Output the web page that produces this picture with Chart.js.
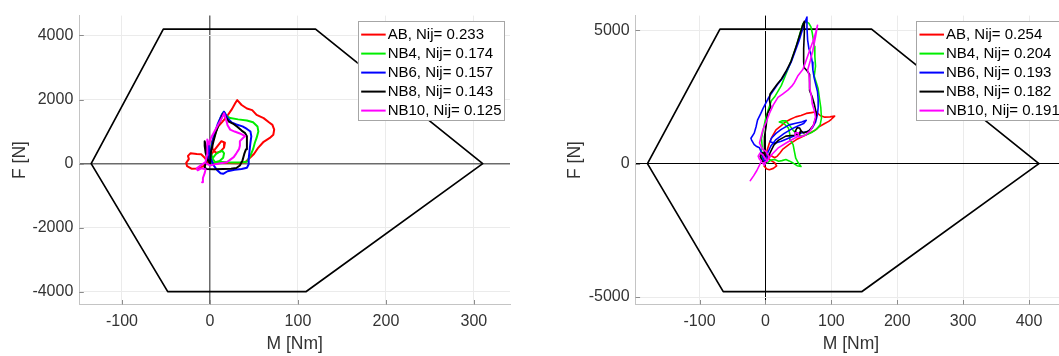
<!DOCTYPE html>
<html>
<head>
<meta charset="utf-8">
<script src="https://cdn.jsdelivr.net/npm/chart.js@4.4.1/dist/chart.umd.min.js"></script>
<style>
  html, body { margin: 0; padding: 0; background: #fff; overflow: hidden; width: 1059px; height: 356px; }
  .panel { position: absolute; top: 0; height: 356px; }
  #left { left: 0; width: 530px; }
  #right { left: 530px; width: 540px; }
</style>
</head>
<body>
<div class="panel" id="left"><canvas id="chartLeft" width="530" height="356"></canvas></div>
<div class="panel" id="right"><canvas id="chartRight" width="540" height="356"></canvas></div>
<script>
// ---- data: M [Nm] vs F [N] ----
const seriesNames = ["AB", "NB4", "NB6", "NB8", "NB10"];
const seriesColors = ["#ff0000", "#00ee00", "#0000ff", "#000000", "#ff00ff"];

const nijLeft = ["0.233", "0.174", "0.157", "0.143", "0.125"];
const nijRight = ["0.254", "0.204", "0.193", "0.182", "0.191"];

// critical envelopes
const hexLeft = [[-135, 0], [-53, 4200], [120, 4200], [310, 0], [109, -4000], [-48, -4000], [-135, 0]];
const hexRight = [[-179, 0], [-69, 5040], [161, 5040], [415, 0], [146, -4800], [-64, -4800], [-179, 0]];

// ticks
const xTicksLeft = [-100, 0, 100, 200, 300];
const yTicksLeft = [-4000, -2000, 0, 2000, 4000];
const xTicksRight = [-100, 0, 100, 200, 300, 400];
const yTicksRight = [-5000, 0, 5000];

// left panel traces
const abLeft = [[0,0],[-3,60],[-6,180],[-10,290],[-15,300],[-22,320],[-25,240],[-24,140],[-27,20],[-26,-80],[-21,-160],[-13,-150],[-8,-90],[-5,0],[-2,150],[2,300],[5,420],[9,560],[13,700],[17,650],[16,500],[12,380],[7,330],[3,450],[2,650],[5,900],[9,1150],[14,1300],[20,1500],[25,1700],[29,1900],[31,1980],[36,1830],[42,1720],[48,1670],[53,1520],[61,1420],[67,1290],[71,1210],[73,1060],[72,900],[68,800],[61,680],[55,500],[50,300],[44,140],[40,40],[32,10],[22,15],[12,25],[5,10],[0,0]];
const nb4Left = [[0,0],[2,80],[4,200],[7,300],[11,370],[14,400],[16,320],[15,180],[11,80],[6,40],[3,150],[1,350],[2,600],[5,850],[8,1100],[11,1350],[14,1550],[16,1620],[19,1480],[23,1420],[32,1380],[42,1345],[49,1290],[54,1160],[55,1000],[53,800],[51,650],[49,450],[46,250],[42,60],[35,30],[26,30],[19,40],[10,60],[4,30],[0,0]];
const nb6Left = [[0,0],[-2,150],[-3,400],[-2,650],[-1,400],[1,150],[4,-50],[8,-200],[12,-300],[15,-320],[20,-240],[28,-190],[36,-170],[42,-130],[44,-20],[44,150],[45,400],[46,650],[47,850],[46,1000],[42,1080],[37,1160],[30,1220],[25,1280],[20,1420],[16,1620],[13,1500],[9,1250],[6,1000],[3,700],[1,400],[0,0]];
const nb8Left = [[0,0],[-3,150],[-5,350],[-6,550],[-6,700],[-4,450],[-3,200],[-5,0],[-6,-120],[-4,-170],[5,-175],[15,-170],[24,-165],[30,-140],[34,-60],[37,100],[39,300],[41,450],[42,650],[42,850],[40,950],[36,1030],[31,1150],[26,1250],[21,1320],[17,1480],[15,1550],[11,1300],[7,1000],[4,700],[1,350],[0,0]];
const nb10Left = [[-9,-580],[-8,-450],[-6,-300],[-5,-180],[-10,-150],[-14,-210],[-15,-150],[-10,-50],[-5,50],[-3,300],[-3,750],[-1,600],[1,800],[4,950],[8,1150],[11,1300],[14,1450],[16,1570],[18,1400],[20,1200],[23,1060],[28,1000],[34,940],[40,860],[37,780],[34,700],[34,560],[33,450],[30,320],[27,200],[22,100],[19,40],[12,10],[8,-10],[3,-40],[0,-60],[-4,0]];

// right panel traces
const abRight = [[0,0],[-2,-100],[2,-200],[6,-230],[12,-180],[17,-90],[14,30],[8,120],[4,200],[3,350],[8,300],[14,220],[18,280],[22,400],[26,530],[36,720],[47,900],[58,1030],[67,1140],[76,1260],[82,1390],[90,1500],[96,1580],[100,1660],[105,1780],[98,1750],[90,1740],[83,1800],[77,1940],[70,1910],[62,1880],[54,1800],[46,1750],[38,1660],[31,1570],[24,1420],[16,1260],[10,1000],[6,770],[2,450],[-2,200],[-4,80],[0,0]];
const nb4Right = [[0,0],[-4,120],[-7,350],[-5,650],[-6,950],[-3,1300],[0,1650],[4,2000],[9,2350],[14,2500],[20,2750],[24,2920],[30,3280],[36,3650],[42,4050],[47,4400],[52,4850],[57,5250],[62,5320],[66,5250],[69,5120],[71,4900],[73,4600],[74,4390],[75,4000],[76,3650],[75,3450],[74,3280],[77,3050],[80,2800],[82,2430],[84,2100],[85,1700],[83,1450],[78,1300],[70,1160],[62,1080],[55,1030],[48,1080],[42,1250],[36,1450],[31,1600],[25,1600],[21,1560],[28,1500],[35,1330],[37,1100],[37,900],[42,710],[44,450],[46,200],[50,20],[54,-110],[48,-80],[42,20],[36,100],[31,150],[25,110],[20,90],[14,150],[8,130],[4,50],[0,0]];
const nb6Right = [[0,0],[-3,150],[-6,400],[-9,590],[-14,650],[-17,710],[-21,880],[-22,950],[-17,1140],[-14,1400],[-12,1630],[-7,1880],[-3,2100],[1,2280],[5,2480],[11,2700],[18,2950],[26,3200],[33,3500],[39,3800],[45,4200],[51,4600],[56,5000],[60,5300],[63,5490],[63,5100],[64,4630],[66,4300],[69,4100],[71,3800],[72,3500],[74,3200],[76,3000],[79,2700],[80,2400],[80,2100],[79,1850],[76,1550],[71,1330],[64,1200],[55,1150],[45,1050],[35,950],[24,840],[14,760],[7,820],[9,950],[16,1130],[24,1280],[36,1450],[46,1510],[55,1560],[62,1620],[58,1500],[50,1420],[40,1300],[28,1120],[16,900],[8,650],[3,380],[0,150],[0,0]];
const nb8Right = [[0,0],[-5,100],[-8,280],[-4,420],[0,260],[-2,520],[-2,700],[-1,1000],[1,1390],[3,1870],[8,2120],[6,2400],[7,2610],[11,2750],[18,2980],[24,3160],[31,3450],[39,3840],[46,4350],[52,4820],[56,5150],[59,5330],[59,4900],[58,4300],[58,3800],[59,3590],[64,3450],[67,3340],[67,3000],[67,2730],[71,2500],[74,2240],[77,1900],[77,1750],[73,1450],[66,1220],[58,1150],[54,1220],[52,1330],[48,1340],[45,1200],[46,1080],[51,1100],[54,1250],[52,1100],[44,1060],[31,1030],[20,880],[13,700],[9,500],[5,300],[2,120],[0,0]];
const nb10Right = [[-23,-640],[-18,-460],[-13,-260],[-9,-60],[-6,100],[-9,160],[-11,280],[-8,400],[-4,330],[0,180],[3,80],[5,280],[1,450],[-5,550],[-9,770],[-4,1260],[1,1550],[6,1875],[12,2200],[19,2480],[26,2600],[34,2750],[40,2900],[44,3040],[49,3280],[57,3530],[64,4020],[68,4300],[72,4570],[76,4880],[79,5180],[76,4750],[72,4250],[68,3850],[64,3500],[66,3340],[67,3000],[67,2850],[70,2500],[71,2240],[74,2000],[76,1750],[73,1450],[68,1230],[60,1060],[52,1000],[46,1050],[45,1150],[50,1150],[50,1020],[44,950],[32,780],[20,600],[10,350],[4,150],[0,60],[-4,20],[-2,-60],[0,0]];

const FONT = '"Liberation Sans", Arial, Helvetica, sans-serif';
const toPoints = (arr) => arr.map(([x, y]) => ({ x, y }));

// short tick marks pointing into the plot area
const innerTicks = {
  id: "innerTicks",
  afterDraw(chart) {
    const { ctx, chartArea, scales } = chart;
    const len = 4.5;
    ctx.save();
    ctx.strokeStyle = "#8c8c8c";
    ctx.lineWidth = 1;
    ctx.beginPath();
    scales.x.ticks.forEach((t) => {
      const px = Math.round(scales.x.getPixelForValue(t.value)) + 0.5;
      ctx.moveTo(px, chartArea.bottom);
      ctx.lineTo(px, chartArea.bottom - len);
    });
    scales.y.ticks.forEach((t) => {
      const py = Math.round(scales.y.getPixelForValue(t.value)) + 0.5;
      ctx.moveTo(chartArea.left, py);
      ctx.lineTo(chartArea.left + len, py);
    });
    ctx.stroke();
    ctx.restore();
  },
};

// legend drawn inside the plot area, top right, with a framed box
const insideLegend = {
  id: "insideLegend",
  afterDatasetsDraw(chart, args, opts) {
    const { ctx, chartArea } = chart;
    const items = chart.data.datasets.filter((d) => d.label);
    ctx.save();
    ctx.font = "15px " + FONT;
    const textW = Math.max(...items.map((d) => ctx.measureText(d.label).width));
    const rowH = 19;
    const w = 3.5 + 24.5 + 2 + textW + 2.5;
    const h = items.length * rowH + 4;
    const x = chartArea.right - opts.right - w;
    const y = chartArea.top + 5.7;
    ctx.fillStyle = "#fff";
    ctx.fillRect(x, y, w, h);
    ctx.strokeStyle = "#a6a6a6";
    ctx.lineWidth = 1;
    ctx.strokeRect(Math.round(x) + 0.5, Math.round(y) + 0.5, Math.round(w), Math.round(h));
    items.forEach((d, i) => {
      const cy = y + 13.3 + i * rowH;
      ctx.strokeStyle = d.borderColor;
      ctx.lineWidth = 2;
      ctx.beginPath();
      ctx.moveTo(x + 3.5, cy);
      ctx.lineTo(x + 28, cy);
      ctx.stroke();
      ctx.fillStyle = "#000";
      ctx.textBaseline = "middle";
      ctx.textAlign = "left";
      ctx.fillText(d.label, x + 30, cy + 0.5);
    });
    ctx.restore();
  },
};

const buildDatasets = (hex, traces, nij, width) => {
  const sets = [{
    data: toPoints(hex),
    borderColor: "#000",
    borderWidth: 1.7,
    order: 10,
  }];
  traces.forEach((tr, i) => {
    sets.push({
      label: seriesNames[i] + ", Nij= " + nij[i],
      data: toPoints(tr),
      borderColor: seriesColors[i],
      borderWidth: width,
      order: 5 - i,
    });
  });
  return sets;
};

const makeChart = (canvasId, cfg) => {
  const gridColor = (c) => (c.tick && c.tick.value === 0 ? cfg.zeroColor : "#ebebeb");
  const gridWidth = (c) => (c.tick && c.tick.value === 0 ? cfg.zeroWidth : 1);
  return new Chart(document.getElementById(canvasId), {
    type: "scatter",
    data: { datasets: buildDatasets(cfg.hex, cfg.traces, cfg.nij, cfg.lineWidth) },
    options: {
      responsive: false,
      animation: false,
      devicePixelRatio: 1,
      showLine: true,
      layout: { padding: { top: 11, right: cfg.padRight, bottom: 0, left: 0 } },
      elements: {
        point: { radius: 0, hoverRadius: 0 },
        line: { tension: 0, borderJoinStyle: "round", borderCapStyle: "round" },
      },
      plugins: {
        legend: { display: false },
        tooltip: { enabled: false },
        insideLegend: { right: cfg.legendRight },
      },
      scales: {
        x: {
          type: "linear",
          min: cfg.xMin,
          max: cfg.xMax,
          afterBuildTicks: (s) => { s.ticks = cfg.xTicks.map((v) => ({ value: v })); },
          afterFit: (s) => { s.height = 51.5; },
          ticks: { callback: (v) => String(v), color: "#333", font: { family: FONT, size: 16 }, padding: 7.6, maxRotation: 0 },
          grid: { color: gridColor, lineWidth: gridWidth, drawTicks: false },
          border: { display: true, color: "#c4c4c4", width: 1 },
          title: { display: true, text: "M [Nm]", color: "#333", font: { family: FONT, size: 17.5 }, padding: { top: 0, bottom: 1 } },
        },
        y: {
          type: "linear",
          min: cfg.yMin,
          max: cfg.yMax,
          afterBuildTicks: (s) => { s.ticks = cfg.yTicks.map((v) => ({ value: v })); },
          afterFit: (s) => { s.width = cfg.yAxisWidth; },
          ticks: { callback: (v) => String(v), color: "#333", font: { family: FONT, size: 16 }, padding: 6 },
          grid: { color: gridColor, lineWidth: gridWidth, drawTicks: false },
          border: { display: true, color: "#c4c4c4", width: 1 },
          title: { display: true, text: "F [N]", color: "#333", font: { family: FONT, size: 17.5 }, padding: { top: cfg.yTitlePad, bottom: 0 } },
        },
      },
    },
    plugins: [insideLegend, innerTicks],
  });
};

makeChart("chartLeft", {
  hex: hexLeft,
  traces: [abLeft, nb4Left, nb6Left, nb8Left, nb10Left],
  nij: nijLeft,
  lineWidth: 2,
  xMin: -148.5, xMax: 341,
  yMin: -4400, yMax: 4620,
  xTicks: xTicksLeft, yTicks: yTicksLeft,
  yAxisWidth: 79.3,
  yTitlePad: 9.5,
  padRight: 20,
  legendRight: 6,
  zeroColor: "#6b6b6b",
  zeroWidth: 1.5,
});

makeChart("chartRight", {
  hex: hexRight,
  traces: [abRight, nb4Right, nb6Right, nb8Right, nb10Right],
  nij: nijRight,
  lineWidth: 1.6,
  xMin: -197, xMax: 456.5,
  yMin: -5280, yMax: 5544,
  xTicks: xTicksRight, yTicks: yTicksRight,
  yAxisWidth: 105.6,
  yTitlePad: 35,
  padRight: 3.7,
  legendRight: 4,
  zeroColor: "#000000",
  zeroWidth: 1,
});
</script>
</body>
</html>
